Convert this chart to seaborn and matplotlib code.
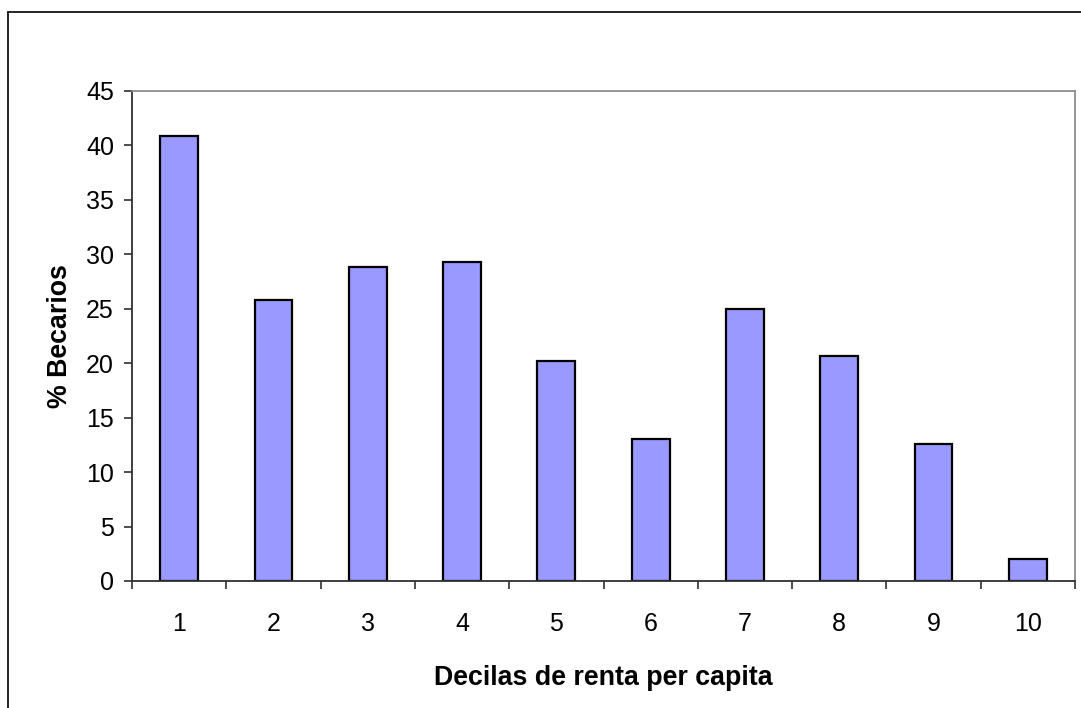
import matplotlib
matplotlib.use("Agg")
import matplotlib.pyplot as plt
import seaborn as sns
import pandas as pd
from matplotlib.lines import Line2D

deciles = ["1", "2", "3", "4", "5", "6", "7", "8", "9", "10"]
becarios = [40.9, 25.8, 28.8, 29.3, 20.2, 13.0, 25.0, 20.7, 12.6, 2.0]

sns.set_theme(style="white")
plt.rcParams['font.family'] = ['Liberation Sans', 'DejaVu Sans']
plt.rcParams['text.color'] = 'black'
plt.rcParams['axes.labelcolor'] = 'black'

df = pd.DataFrame({"decil": deciles, "pct": becarios})

fig = plt.figure(figsize=(10.81, 7.08), dpi=100)
ax = fig.add_axes([132/1081, 1 - 581/708, (1075 - 132)/1081, (581 - 91)/708])

sns.barplot(data=df, x="decil", y="pct", ax=ax, color="#9999FF",
            saturation=1, width=0.4, edgecolor="black", linewidth=1.6)

ax.set_xlim(-0.5, 9.5)
ax.set_ylim(0, 45)
ax.set_yticks(range(0, 46, 5))
ax.set_xticks(range(10))
ax.set_xticklabels(deciles)
ax.set_xticks([i - 0.5 for i in range(11)], minor=True)

ax.tick_params(axis="x", which="major", length=0, pad=22, labelsize=18, colors="black")
ax.tick_params(axis="x", which="minor", length=6, width=1.2, direction="out", color="#303030", bottom=True)
ax.tick_params(axis="y", which="major", length=6, width=1.2, direction="out", pad=7,
               labelsize=18, color="#303030", left=True, labelcolor="black")

for s in ["top", "right"]:
    ax.spines[s].set_color("#8c8c8c")
    ax.spines[s].set_linewidth(1.3)
for s in ["left", "bottom"]:
    ax.spines[s].set_color("#303030")
    ax.spines[s].set_linewidth(1.3)

ax.set_xlabel("Decilas de renta per capita", fontsize=19.3, fontweight="bold", labelpad=21, color="black")
ax.set_ylabel("% Becarios", fontsize=19.3, fontweight="bold", labelpad=9, color="black")

# outer chart border (left and top visible)
fig.add_artist(Line2D([8/1081, 8/1081], [0, 1 - 12/708], transform=fig.transFigure, color="black", linewidth=1.2))
fig.add_artist(Line2D([8/1081, 1], [1 - 12/708, 1 - 12/708], transform=fig.transFigure, color="black", linewidth=1.2))

fig.savefig("out.png", dpi=100)
